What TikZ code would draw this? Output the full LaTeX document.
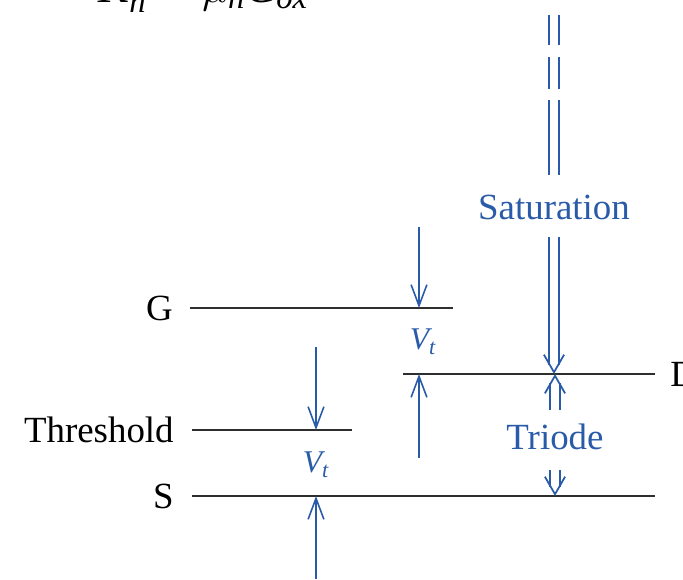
\documentclass[tikz,border=0pt]{standalone}
\usepackage{fontspec}
\setmainfont{Liberation Serif}
\usetikzlibrary{positioning,arrows.meta,calc}
\definecolor{ink}{HTML}{2E2E2E}
\definecolor{blue}{HTML}{2A5BA8}
\tikzset{
  level/.style={draw=ink, line width=1.2pt},
  arr/.style={-{Straight Barb[length=12pt,width=9pt]}, line width=0.9pt, color=blue},
  dline/.style={line width=1pt, color=blue, double=white, double distance=4.6pt},
  dbl/.style={dline, shorten >=5pt},
  dhead/.style={-{Straight Barb[length=10pt,width=11.5pt]}, line width=1pt, color=blue},
  lab/.style={font=\fontsize{21pt}{25pt}\selectfont, text=black, inner sep=0pt},
  blab/.style={font=\fontsize{21pt}{25pt}\selectfont, text=blue, inner sep=0pt},
  vlab/.style={font=\fontsize{18pt}{22pt}\selectfont, text=blue, inner sep=0pt},
}
\begin{document}
\begin{tikzpicture}[x=0.02cm, y=-0.02cm]
    \useasboundingbox (0,0) rectangle (683,579);
    \clip (0,0) rectangle (683,579);
    \node[lab, anchor=base west, font=\fontsize{26.5pt}{30pt}\selectfont] (kn) at (98,2) {$\mathit{K}_{\mathit{n}}' = \mu_{\mathit{n}}\mathit{C}_{\mathit{ox}}$};
    % levels
    \coordinate (g0) at (190,308); \coordinate (g1) at (453,308);
    \coordinate (d0) at (403,374); \coordinate (d1) at (655,374);
    \coordinate (t0) at (192,430); \coordinate (t1) at (352,430);
    \coordinate (s0) at (192,496); \coordinate (s1) at (655,496);
    \draw[level] (g0) -- (g1);
    \draw[level] (d0) -- (d1);
    \draw[level] (t0) -- (t1);
    \draw[level] (s0) -- (s1);
    \node[lab, left=0.34cm of g0] (g) {G};
    \node[lab, left=0.36cm of t0] (th) {Threshold};
    \node[lab, left=0.36cm of s0] (s) {S};
    \node[lab, right=0.3cm of d1] (d) {D};
    % V_t between G and D
    \coordinate (a1) at (419,227); \coordinate (a2) at (419,458);
    \draw[arr] (a1) -- (a1 |- g1);
    \node[vlab] (vt1) at (423,342) {$\mathit{V}_{\mathit{t}}$};
    \draw[arr] (a2) -- (a2 |- d0);
    % V_t between threshold and S
    \coordinate (b1) at (316,347); \coordinate (b2) at (316,579);
    \draw[arr] (b1) -- (b1 |- t1);
    \node[vlab] (vt2) at (316,465) {$\mathit{V}_{\mathit{t}}$};
    \draw[arr] (b2) -- (b2 |- s1);
    % saturation
    \foreach \ya/\yb in {15/45, 57/89, 100/175}
      \draw[dline] (554,\ya) -- (554,\yb);
    \node[blab] (sat) at (554,207) {Saturation};
    \coordinate (c1) at (554,237);
    \draw[dbl] (c1) -- (c1 |- d1);
    \draw[dhead] ($(c1 |- d1)+(0,-2)$) -- (c1 |- d1);
    % triode
    \node[blab] (tri) at (555,437) {Triode};
    \coordinate (e1) at (555,410); \coordinate (e2) at (555,470);
    \draw[dbl] (e1) -- (e1 |- d1);
    \draw[dhead] ($(e1 |- d1)+(0,2)$) -- (e1 |- d1);
    \draw[dbl] (e2) -- (e2 |- s1);
    \draw[dhead] ($(e2 |- s1)+(0,-2)$) -- (e2 |- s1);
  \end{tikzpicture}
\end{document}
